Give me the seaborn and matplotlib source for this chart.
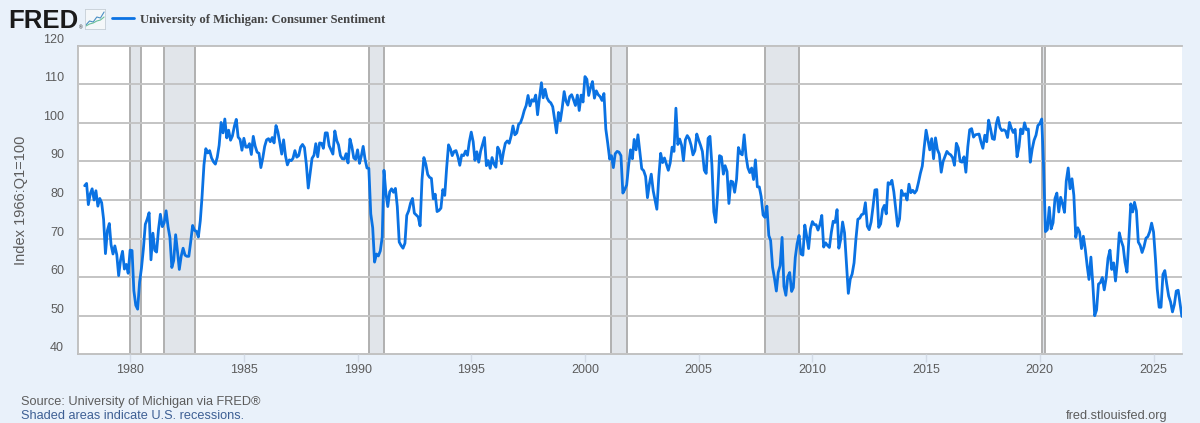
import datetime as dt

import matplotlib.dates as mdates
import matplotlib.pyplot as plt
import pandas as pd
import seaborn as sns

# monthly index values, one list per stretch of years
sent_1978_1985 = [83.7, 84.3, 78.8, 81.6, 82.9, 80.0, 82.4, 78.4, 80.4, 79.3, 75.0, 66.1,
                  72.1, 73.9, 68.4, 66.0, 68.1, 65.8, 60.4, 64.5, 66.7, 62.1, 63.3, 61.0,
                  67.0, 66.9, 56.5, 52.7, 51.7, 58.7, 62.3, 67.3, 73.7, 75.0, 76.7, 64.5,
                  71.4, 66.9, 66.5, 72.4, 76.3, 73.1, 74.1, 77.2, 73.1, 70.3, 62.5, 64.3,
                  71.0, 66.5, 62.0, 65.5, 67.5, 65.7, 65.4, 65.4, 69.3, 73.4, 72.1, 71.9,
                  70.4, 74.6, 80.8, 89.1, 93.3, 92.2, 92.8, 90.9, 89.9, 89.3, 91.1, 94.2,
                  100.1, 97.4, 101.0, 96.1, 98.1, 95.5, 96.6, 99.1, 100.9, 96.3, 95.7, 92.9,
                  96.0, 93.7, 93.7, 94.6, 91.8, 96.5, 94.0, 92.4, 92.1, 88.4, 90.9, 93.9]
sent_1986_1993 = [95.6, 95.9, 95.1, 96.2, 94.8, 99.3, 97.7, 94.9, 91.9, 95.6, 91.4, 89.1,
                  90.4, 90.2, 90.8, 92.8, 91.1, 91.5, 93.7, 94.4, 93.6, 89.3, 83.1, 86.8,
                  90.8, 91.6, 94.6, 91.2, 94.8, 94.7, 93.4, 97.4, 97.4, 94.1, 93.0, 91.9,
                  97.9, 95.4, 94.3, 91.5, 90.7, 90.6, 92.0, 89.6, 95.8, 93.9, 90.9, 90.5,
                  93.0, 89.5, 91.3, 93.9, 90.6, 88.3, 88.2, 76.4, 72.8, 63.9, 66.0, 65.5,
                  66.8, 70.4, 87.7, 81.8, 78.3, 82.1, 82.9, 82.0, 83.0, 78.3, 69.1, 68.2,
                  67.5, 68.8, 76.0, 77.2, 79.2, 80.4, 76.6, 76.1, 75.6, 73.3, 85.3, 91.0,
                  89.3, 86.6, 85.9, 85.6, 80.3, 81.5, 77.0, 77.3, 77.9, 82.7, 81.2, 88.2]
sent_1994_2001 = [94.3, 93.2, 91.5, 92.6, 92.8, 91.2, 89.0, 91.7, 91.5, 92.7, 91.6, 95.1,
                  97.6, 95.1, 90.3, 92.5, 89.8, 92.7, 94.4, 96.2, 88.9, 90.2, 88.2, 91.0,
                  89.3, 88.5, 93.7, 92.7, 89.4, 92.4, 94.7, 95.3, 94.7, 96.5, 99.2, 96.9,
                  97.4, 99.7, 100.0, 101.4, 103.2, 104.5, 107.1, 104.4, 106.0, 105.6, 107.2, 102.1,
                  106.6, 110.4, 106.5, 108.7, 106.5, 105.6, 105.2, 104.2, 100.9, 97.4, 102.7, 100.5,
                  103.9, 108.1, 105.7, 104.6, 106.8, 107.3, 106.0, 104.5, 107.2, 103.2, 107.2, 105.4,
                  112.0, 111.3, 107.1, 109.2, 110.7, 106.4, 108.3, 107.3, 106.8, 105.8, 107.6, 98.4,
                  94.7, 90.6, 91.5, 88.4, 92.0, 92.6, 92.4, 91.5, 81.8, 82.7, 83.9, 88.8]
sent_2002_2009 = [93.0, 90.7, 95.7, 93.0, 96.9, 92.4, 88.1, 87.6, 86.1, 80.6, 84.2, 86.7,
                  82.4, 79.9, 77.6, 86.0, 92.1, 89.7, 90.9, 89.3, 87.7, 89.6, 93.7, 92.6,
                  103.8, 94.4, 95.8, 94.2, 90.2, 95.6, 96.7, 95.9, 94.2, 91.7, 92.8, 97.1,
                  95.5, 94.1, 92.6, 87.7, 86.9, 96.0, 96.5, 89.1, 76.9, 74.2, 81.6, 91.5,
                  91.2, 86.7, 88.9, 87.4, 79.1, 84.9, 84.7, 82.0, 85.4, 93.6, 92.1, 91.7,
                  96.9, 91.3, 88.4, 87.1, 88.3, 85.3, 90.4, 83.4, 83.4, 80.9, 76.1, 75.5,
                  78.4, 70.8, 69.5, 62.6, 59.8, 56.4, 61.2, 63.0, 70.3, 57.6, 55.3, 60.1,
                  61.2, 56.3, 57.3, 65.1, 68.7, 70.8, 66.0, 65.7, 73.5, 70.6, 67.4, 72.5]
sent_2010_2017 = [74.4, 73.6, 73.6, 72.2, 73.6, 76.0, 67.8, 68.9, 68.2, 67.7, 71.6, 74.5,
                  74.2, 77.5, 67.5, 69.8, 74.3, 71.5, 63.7, 55.8, 59.5, 60.8, 63.7, 69.9,
                  75.0, 75.3, 76.2, 76.4, 79.3, 73.2, 72.3, 74.3, 78.3, 82.6, 82.7, 72.9,
                  73.8, 77.6, 78.6, 76.4, 84.5, 84.1, 85.1, 82.1, 77.5, 73.2, 75.1, 82.5,
                  81.2, 81.6, 80.0, 84.1, 81.9, 82.5, 81.8, 82.5, 84.6, 86.9, 88.8, 93.6,
                  98.1, 95.4, 93.0, 95.9, 90.7, 96.1, 93.1, 91.9, 87.2, 90.0, 91.3, 92.6,
                  92.0, 91.7, 91.0, 89.0, 94.7, 93.5, 90.0, 89.8, 91.2, 87.2, 93.8, 98.2,
                  98.5, 96.3, 96.9, 97.0, 97.1, 95.0, 93.4, 96.8, 95.1, 100.7, 98.5, 95.9]
sent_2018_2026 = [95.7, 99.7, 101.4, 98.8, 98.0, 98.2, 97.9, 96.2, 100.1, 98.6, 97.5, 98.3,
                  91.2, 93.8, 98.4, 97.2, 100.0, 98.2, 98.4, 89.8, 93.2, 95.5, 96.8, 99.3,
                  99.8, 101.0, 89.1, 71.8, 72.3, 78.1, 72.5, 74.1, 80.4, 81.8, 76.9, 80.7,
                  79.0, 76.8, 84.9, 88.3, 82.9, 85.5, 81.2, 70.3, 72.8, 71.7, 67.4, 70.6,
                  67.2, 62.8, 59.4, 65.2, 58.4, 50.0, 51.5, 58.2, 58.6, 59.9, 56.7, 59.7,
                  64.9, 67.0, 62.0, 63.7, 59.0, 64.2, 71.5, 69.4, 67.9, 63.8, 61.3, 69.7,
                  79.0, 76.9, 79.4, 77.2, 69.1, 68.2, 66.4, 67.9, 70.1, 70.5, 71.8, 74.0,
                  71.7, 64.7, 57.0, 52.2, 52.2, 60.7, 61.7, 58.2, 55.1, 53.6, 51.0, 52.9,
                  56.4, 56.6, 53.3, 49.8]

recession_starts = ['1980-01-01', '1981-07-01', '1990-07-01', '2001-03-01', '2007-12-01', '2020-02-01']
recession_ends = ['1980-07-01', '1982-11-01', '1991-03-01', '2001-11-01', '2009-06-01', '2020-04-01']
y_ticks = [40, 50, 60, 70, 80, 90, 100, 110, 120]

# little chart icon next to the logo
icon_blue = [1, 3, 2.5, 5, 4.5, 7.5]
icon_green = [0.5, 1.5, 2, 3, 3.5, 5]

BG = '#e9f1fa'
BLUE = '#0a72e3'
GRID = '#c4c4c4'
TXT = '#5c5c5c'

sns.set_style('white')
plt.rcParams['font.family'] = ['Liberation Sans', 'DejaVu Sans']

sentiment = sent_1978_1985 + sent_1986_1993 + sent_1994_2001 + sent_2002_2009 + sent_2010_2017 + sent_2018_2026
df = pd.DataFrame({'date': pd.date_range('1978-01-01', periods=len(sentiment), freq='MS'),
                   'value': sentiment})

fig = plt.figure(figsize=(12, 4.23), dpi=100, facecolor=BG)
ax = fig.add_axes([78 / 1200, 1 - 354.3 / 423, 1104 / 1200, 308.6 / 423])

# recessions first so grid and line go on top
for start, end in zip(recession_starts, recession_ends):
    ax.axvspan(pd.Timestamp(start), pd.Timestamp(end), facecolor='#e1e5ea', edgecolor='#b0b0b0', lw=1.4, zorder=1)

ax.set_axisbelow(False)
ax.grid(axis='y', color=GRID, lw=1.4, zorder=2)
sns.lineplot(data=df, x='date', y='value', color=BLUE, lw=2.0, ax=ax, zorder=3,
             label='University of Michigan: Consumer Sentiment')

ax.set_xlim(dt.datetime(1977, 9, 16), dt.datetime(2026, 4, 3))
ax.set_ylim(40, 120)
ax.set_yticks(y_ticks)
ax.xaxis.set_major_locator(mdates.YearLocator(5))
ax.xaxis.set_major_formatter(mdates.DateFormatter('%Y'))
ax.set_xlabel('')
ax.set_ylabel('Index 1966:Q1=100', fontsize=10.5, color=TXT)
ax.yaxis.set_label_coords(-50 / 1104, 0.5)

ax.tick_params(axis='y', length=0, pad=10, labelsize=9.0, labelcolor=TXT)
ax.tick_params(axis='x', length=6, width=1, color='#d3dbe6', bottom=True, pad=1, labelsize=9.0, labelcolor=TXT)
for lab in ax.get_yticklabels():
    lab.set_va('bottom')

for side in ['top', 'left', 'bottom']:
    ax.spines[side].set_color('#bdbdbd')
    ax.spines[side].set_linewidth(1.3)
ax.spines['right'].set_visible(False)

# legend sits up next to the logo, outside the plot
ax.legend(loc='center left', bbox_to_anchor=(112 / 1200, 1 - 19.5 / 423), bbox_transform=fig.transFigure,
          frameon=False, handlelength=1.75, handletextpad=0.45, borderpad=0, borderaxespad=0,
          labelcolor='#444444', prop={'family': 'Liberation Serif', 'weight': 'bold', 'size': 9.1})

fig.text(8 / 1200, 1 - 20.5 / 423, 'FRED', fontsize=18.5, fontweight='bold', color='#1a1a1a', va='center')
fig.text(79 / 1200, 1 - 28 / 423, '®', fontsize=3.5, color='#1a1a1a', va='center')

icon = fig.add_axes([85 / 1200, 1 - 29 / 423, 20 / 1200, 20 / 423], facecolor='#f4f7f9')
sns.lineplot(x=range(len(icon_blue)), y=icon_blue, color='#4a8fc4', lw=0.8, ax=icon)
sns.lineplot(x=range(len(icon_green)), y=icon_green, color='#6bbf9a', lw=0.8, ax=icon)
icon.set_xticks([])
icon.set_yticks([])
icon.set_ylim(-1, 9)
for sp in icon.spines.values():
    sp.set_color('#c5ced6')
    sp.set_linewidth(0.6)

fig.text(21 / 1200, 1 - 402 / 423, 'Source: University of Michigan via FRED®', fontsize=9.2, color=TXT, va='center')
fig.text(21 / 1200, 1 - 416 / 423, 'Shaded areas indicate U.S. recessions.', fontsize=9.2, color='#3d5f94', va='center')
fig.text(1167 / 1200, 1 - 416 / 423, 'fred.stlouisfed.org', fontsize=9.2, color=TXT, va='center', ha='right')

fig.savefig('out.png', dpi=100, facecolor=BG)
